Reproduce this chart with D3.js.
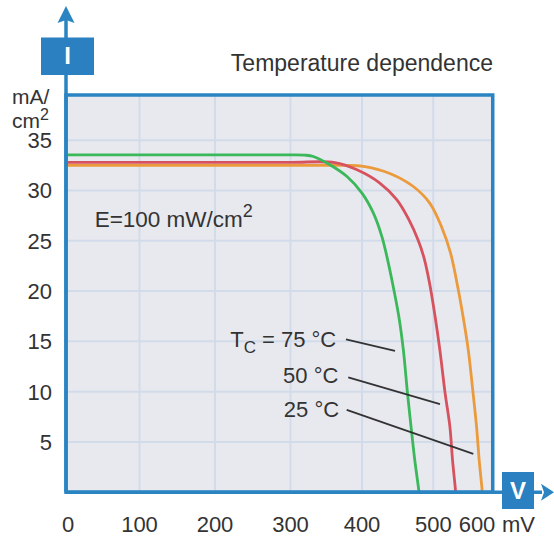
<!DOCTYPE html>
<html>
<head>
<meta charset="utf-8">
<script src="https://cdn.jsdelivr.net/npm/d3@7"></script>
<style>
  html, body { margin: 0; padding: 0; background: #ffffff; }
  svg { display: block; }
  text { font-family: "Liberation Sans", Arial, Helvetica, sans-serif; fill: #333; }
</style>
</head>
<body>
<svg id="chart" width="554" height="537"></svg>
<script>
// ---------- data ----------
const title = "Temperature dependence";
const yUnit = ["mA/", "cm", "2"];
const xUnit = "mV";
const xTicks = [0, 100, 200, 300, 400, 500, 600];
const xGrid = [100, 200, 300, 400, 500];
const yTicks = [5, 10, 15, 20, 25, 30, 35];
const xMax = 636;   // mV at right frame
const yMax = 39.5;  // mA/cm2 at top frame

// I-V curves: [voltage mV, current mA/cm2]
const curve25 = [[0,32.5],[100,32.5],[200,32.5],[300,32.5],[376,32.5],[402,32.4],[439,31.7],[472,30.4],[495,28.75],[518.8,26.4],[539.4,23.8],[554.2,20.8],[568,17.5],[580,14.15],[591,9.85],[599,6.5],[605,3.2],[611,0.55],[612,0]];
const curve50 = [[0,32.8],[100,32.8],[200,32.8],[300,32.8],[362,32.78],[393,32.06],[425,30.74],[449,29.07],[465.9,27.08],[478.5,25.1],[487,23.3],[494.7,20.8],[504,17.5],[515,14.15],[527,9.85],[538,6.5],[544,3.2],[550,0.55],[551,0]];
const curve75 = [[0,33.55],[100,33.55],[200,33.55],[300,33.55],[320,33.52],[332,33.38],[355,32.56],[379,31.39],[400,29.74],[416,27.75],[428,25.4],[435,23.4],[442.8,20.8],[451.6,17.5],[458,14.15],[463.8,9.85],[468.8,6.5],[474,3.2],[479,0.55],[480,0]];
const seriesNames = ["25 °C", "50 °C", "75 °C"];
const seriesColors = ["#eb9a3c", "#d6525e", "#3ab85a"];

const irradiance = ["E=100 mW/cm", "2"];
// annotation: label end [mV, mA], leader from -> to
const labels = [
  {pre: "T", sub: "C", text: " = 75 °C", at: [364, 14.48], from: [377.6, 15.19], to: [446.3, 14.05]},
  {pre: "", sub: "", text: "50 °C", at: [367, 10.84], from: [380.8, 11.43], to: [515.3, 8.75]},
  {pre: "", sub: "", text: "25 °C", at: [368, 7.45], from: [378.6, 8.18], to: [591.5, 3.82]}
];

// ---------- layout ----------
const blue = "#2a84c2";
const svg = d3.select("#chart");

const x = d3.scaleLinear()
  .domain(xTicks)
  .range([66, 139.5, 215, 290.5, 362, 433.3, 477]);
const y = d3.scaleLinear().domain([0, yMax]).range([492.2, 95]);

const X0 = x(0), X1 = x(xMax), Y0 = y(0), Y1 = y(yMax);

// background
svg.append("rect").attr("x", X0).attr("y", Y1).attr("width", X1 - X0).attr("height", Y0 - Y1)
  .attr("fill", "#e8e9ef");

// grid
svg.append("g").selectAll("line").data(xGrid).join("line")
  .attr("x1", d => x(d)).attr("x2", d => x(d)).attr("y1", Y1).attr("y2", Y0)
  .attr("stroke", "#d2dbea").attr("stroke-width", 2);
svg.append("g").selectAll("line").data(yTicks).join("line")
  .attr("y1", d => y(d)).attr("y2", d => y(d)).attr("x1", X0).attr("x2", X1)
  .attr("stroke", "#d2dbea").attr("stroke-width", 2);

// curves
const line = d3.line().x(d => x(d[0])).y(d => y(d[1])).curve(d3.curveCatmullRom.alpha(0.5));
[curve25, curve50, curve75].forEach((c, i) => {
  svg.append("path").datum(c).attr("d", line)
    .attr("fill", "none").attr("stroke", seriesColors[i]).attr("stroke-width", 2.8)
    .attr("stroke-linejoin", "round");
});

// leader lines and labels
labels.forEach(l => {
  svg.append("line")
    .attr("x1", x(l.from[0])).attr("y1", y(l.from[1]))
    .attr("x2", x(l.to[0])).attr("y2", y(l.to[1]))
    .attr("stroke", "#333").attr("stroke-width", 1.8);
  const t = svg.append("text").attr("x", x(l.at[0])).attr("y", y(l.at[1]))
    .attr("text-anchor", "end").attr("font-size", 22);
  if (l.pre) {
    t.append("tspan").text(l.pre);
    t.append("tspan").text(l.sub).attr("font-size", 17).attr("dy", 6);
    t.append("tspan").text(l.text).attr("dy", -6);
  } else {
    t.text(l.text);
  }
});

// irradiance label
const e = svg.append("text").attr("x", x(39)).attr("y", y(26.4)).attr("font-size", 22.5);
e.append("tspan").text(irradiance[0]);
e.append("tspan").text(irradiance[1]).attr("font-size", 18).attr("dy", -10);

// frame
svg.append("rect").attr("x", X0).attr("y", Y1).attr("width", X1 - X0).attr("height", Y0 - Y1)
  .attr("fill", "none").attr("stroke", blue).attr("stroke-width", 3.5);

// y axis line and arrow
svg.append("line").attr("x1", X0).attr("x2", X0).attr("y1", 20).attr("y2", Y0)
  .attr("stroke", blue).attr("stroke-width", 3.5);
svg.append("path").attr("d", `M${X0},6 L${X0 + 8.5},23 L${X0},20 L${X0 - 8.5},23 Z`).attr("fill", blue);
// x axis line and arrow
svg.append("line").attr("x1", X0).attr("x2", 542).attr("y1", Y0).attr("y2", Y0)
  .attr("stroke", blue).attr("stroke-width", 3.5);
svg.append("path").attr("d", `M554,${Y0} L541,${Y0 - 8.5} L544,${Y0} L541,${Y0 + 8.5} Z`).attr("fill", blue);

// axis boxes
svg.append("rect").attr("x", 41).attr("y", 37.5).attr("width", 53).attr("height", 37.5).attr("fill", "#2a80c0");
svg.append("text").attr("x", 67.5).attr("y", 64).attr("text-anchor", "middle")
  .attr("font-size", 24).attr("font-weight", "bold").style("fill", "#fff").text("I");
svg.append("rect").attr("x", 502).attr("y", 472).attr("width", 32).attr("height", 37).attr("fill", "#2a80c0");
svg.append("text").attr("x", 518).attr("y", 499).attr("text-anchor", "middle")
  .attr("font-size", 24).attr("font-weight", "bold").style("fill", "#fff").text("V");

// tick labels
svg.append("g").selectAll("text").data(yTicks).join("text")
  .attr("x", 52).attr("y", d => y(d)).attr("dy", "0.36em").attr("text-anchor", "end")
  .attr("font-size", 22).text(d => d);
svg.append("g").selectAll("text").data(xTicks).join("text")
  .attr("x", d => x(d) + (d === 0 ? 2 : 0)).attr("y", 531.5).attr("text-anchor", "middle")
  .attr("font-size", 22).text(d => d);
svg.append("text").attr("x", 502).attr("y", 531.5).attr("font-size", 22).text(xUnit);

// y unit
svg.append("text").attr("x", 12).attr("y", 104).attr("font-size", 21).text(yUnit[0]);
const cu = svg.append("text").attr("x", 12).attr("y", 127.5).attr("font-size", 21);
cu.append("tspan").text(yUnit[1]);
cu.append("tspan").text(yUnit[2]).attr("font-size", 16).attr("dy", -8);

// title
svg.append("text").attr("x", 493).attr("y", 71).attr("text-anchor", "end")
  .attr("font-size", 23).text(title);
</script>
</body>
</html>
